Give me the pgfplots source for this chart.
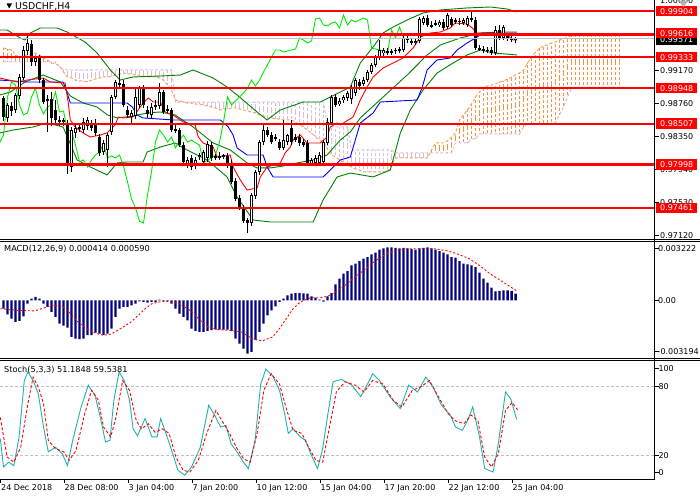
\documentclass[border=0pt]{standalone}
\usepackage{fontspec}
\setmainfont{DejaVu Sans}
\usepackage{pgfplots}
\usepackage{pgfplotstable}
\pgfplotsset{compat=1.18}
\definecolor{bbgreen}{RGB}{0,128,0}
\definecolor{chik}{RGB}{0,235,0}
\definecolor{sandy}{RGB}{244,164,96}
\definecolor{sandyh}{RGB}{242,150,70}
\definecolor{thist}{RGB}{216,191,216}
\definecolor{navyb}{RGB}{0,0,128}
\definecolor{stochc}{RGB}{32,178,170}
\definecolor{lgray}{RGB}{192,192,192}

\pgfplotstableread{
i O H L C
0 0.98826 0.98851 0.98540 0.98590
1 0.98578 0.98764 0.98528 0.98739
2 0.98727 0.98776 0.98602 0.98664
3 0.98677 0.98888 0.98640 0.98863
4 0.98851 0.99124 0.98813 0.99087
5 0.99074 0.99472 0.99049 0.99422
6 0.99410 0.99608 0.99360 0.99509
7 0.99496 0.99546 0.99223 0.99273
8 0.99273 0.99347 0.99223 0.99323
9 0.99323 0.99360 0.99012 0.99049
10 0.99049 0.99074 0.98751 0.98776
11 0.98789 0.98863 0.98404 0.98813
12 0.98813 0.98900 0.98478 0.98578
13 0.98677 0.98801 0.98503 0.98553
14 0.98553 0.98602 0.98478 0.98528
15 0.98528 0.98578 0.98478 0.98553
16 0.98503 0.98553 0.97882 0.97994
17 0.97969 0.98466 0.97907 0.98428
18 0.98391 0.98491 0.98329 0.98453
19 0.98453 0.98503 0.98404 0.98466
20 0.98428 0.98578 0.98391 0.98528
21 0.98478 0.98590 0.98428 0.98553
22 0.98503 0.98553 0.98416 0.98453
23 0.98503 0.98565 0.98354 0.98391
24 0.98341 0.98379 0.98106 0.98143
25 0.98155 0.98304 0.98118 0.98267
26 0.98180 0.98391 0.97969 0.98366
27 0.98404 0.98863 0.98366 0.98838
28 0.98838 0.99049 0.98813 0.99025
29 0.99012 0.99198 0.98950 0.98987
30 0.99000 0.99049 0.98714 0.98739
31 0.98677 0.98727 0.98578 0.98615
32 0.98590 0.98677 0.98515 0.98640
33 0.98602 0.98950 0.98565 0.98838
34 0.98739 0.98975 0.98702 0.98950
35 0.98950 0.98987 0.98702 0.98739
36 0.98677 0.98727 0.98578 0.98627
37 0.98615 0.98764 0.98578 0.98714
38 0.98714 0.98801 0.98677 0.98739
39 0.98727 0.99012 0.98689 0.98900
40 0.98900 0.98925 0.98627 0.98652
41 0.98689 0.98739 0.98640 0.98664
42 0.98677 0.98702 0.98404 0.98428
43 0.98441 0.98491 0.98391 0.98416
44 0.98428 0.98453 0.98217 0.98242
45 0.98242 0.98279 0.97994 0.98031
46 0.97994 0.98093 0.97957 0.98056
47 0.98081 0.98118 0.97932 0.97969
48 0.97981 0.98093 0.97944 0.98056
49 0.98093 0.98143 0.98056 0.98118
50 0.98031 0.98180 0.97994 0.98155
51 0.98081 0.98292 0.98031 0.98255
52 0.98242 0.98279 0.98043 0.98081
53 0.98093 0.98130 0.98056 0.98106
54 0.98106 0.98155 0.98056 0.98081
55 0.98093 0.98130 0.98068 0.98118
56 0.98106 0.98143 0.97957 0.97981
57 0.98019 0.98056 0.97758 0.97783
58 0.97795 0.97832 0.97547 0.97572
59 0.97584 0.97621 0.97435 0.97460
60 0.97460 0.97497 0.97273 0.97298
61 0.97311 0.97335 0.97149 0.97273
62 0.97273 0.97646 0.97236 0.97621
63 0.97609 0.97932 0.97572 0.97907
64 0.97907 0.98304 0.97870 0.98279
65 0.98279 0.98491 0.98242 0.98428
66 0.98428 0.98466 0.98341 0.98366
67 0.98366 0.98404 0.98255 0.98279
68 0.98329 0.98379 0.98292 0.98341
69 0.98279 0.98317 0.98180 0.98205
70 0.98205 0.98553 0.98180 0.98304
71 0.98279 0.98379 0.98242 0.98366
72 0.98453 0.98553 0.98242 0.98279
73 0.98341 0.98379 0.98279 0.98304
74 0.98341 0.98379 0.98230 0.98267
75 0.98279 0.98317 0.98217 0.98242
76 0.98267 0.98304 0.97994 0.98019
77 0.98019 0.98081 0.97994 0.98056
78 0.98019 0.98118 0.97994 0.98081
79 0.98019 0.98155 0.97994 0.98118
80 0.98031 0.98304 0.98006 0.98279
81 0.98267 0.98578 0.98242 0.98528
82 0.98515 0.98863 0.98491 0.98838
83 0.98838 0.98876 0.98714 0.98739
84 0.98751 0.98826 0.98727 0.98789
85 0.98801 0.98863 0.98764 0.98838
86 0.98826 0.98913 0.98789 0.98888
87 0.98813 0.98987 0.98751 0.98950
88 0.98888 0.99074 0.98851 0.99049
89 0.99025 0.99062 0.98925 0.98975
90 0.99000 0.99087 0.98975 0.99049
91 0.99049 0.99174 0.99025 0.99149
92 0.99149 0.99261 0.99124 0.99236
93 0.99236 0.99360 0.99211 0.99335
94 0.99323 0.99546 0.99298 0.99422
95 0.99385 0.99447 0.99347 0.99422
96 0.99410 0.99447 0.99360 0.99397
97 0.99397 0.99434 0.99360 0.99410
98 0.99410 0.99447 0.99372 0.99422
99 0.99410 0.99459 0.99385 0.99434
100 0.99422 0.99596 0.99397 0.99571
101 0.99571 0.99608 0.99509 0.99546
102 0.99534 0.99571 0.99484 0.99509
103 0.99509 0.99559 0.99484 0.99534
104 0.99534 0.99832 0.99509 0.99807
105 0.99757 0.99844 0.99732 0.99819
106 0.99819 0.99857 0.99708 0.99732
107 0.99732 0.99782 0.99695 0.99720
108 0.99745 0.99795 0.99720 0.99757
109 0.99732 0.99795 0.99708 0.99770
110 0.99770 0.99807 0.99670 0.99695
111 0.99708 0.99882 0.99683 0.99857
112 0.99807 0.99832 0.99708 0.99732
113 0.99782 0.99819 0.99745 0.99795
114 0.99782 0.99819 0.99732 0.99770
115 0.99757 0.99819 0.99732 0.99795
116 0.99732 0.99844 0.99708 0.99819
117 0.99819 0.99894 0.99770 0.99795
118 0.99795 0.99832 0.99422 0.99447
119 0.99447 0.99484 0.99410 0.99434
120 0.99434 0.99472 0.99385 0.99422
121 0.99422 0.99459 0.99385 0.99410
122 0.99422 0.99459 0.99360 0.99385
123 0.99385 0.99720 0.99360 0.99670
124 0.99670 0.99732 0.99546 0.99571
125 0.99571 0.99732 0.99546 0.99708
126 0.99596 0.99633 0.99534 0.99571
127 0.99571 0.99608 0.99521 0.99559
128 0.99546 0.99583 0.99509 0.99571
}\candles

\pgfplotstableread{
i A B
0 0.99447 0.99273
1 0.99434 0.99273
2 0.99422 0.99273
3 0.99372 0.99273
4 0.99323 0.99273
5 0.99347 0.99273
6 0.99360 0.99273
7 0.99372 0.99273
8 0.99385 0.99273
9 0.99360 0.99273
10 0.99323 0.99273
11 0.99298 0.99273
12 0.99261 0.99273
13 0.99248 0.99273
14 0.99223 0.99223
15 0.99149 0.99174
16 0.99087 0.99174
17 0.99074 0.99174
18 0.99049 0.99174
19 0.99037 0.99174
20 0.99037 0.99174
21 0.99025 0.99174
22 0.99049 0.99174
23 0.99062 0.99174
24 0.99074 0.99174
25 0.99087 0.99174
26 0.99087 0.99174
27 0.99099 0.99174
28 0.99111 0.99174
29 0.99124 0.99174
30 0.99136 0.99174
31 0.99124 0.99174
32 0.99124 0.99174
33 0.99111 0.99174
34 0.99099 0.99174
35 0.99099 0.99174
36 0.99087 0.99174
37 0.99087 0.99174
38 0.99087 0.99174
39 0.99074 0.99174
40 0.99049 0.99174
41 0.98987 0.99174
42 0.98925 0.99174
43 0.98801 0.98776
44 0.98789 0.98776
45 0.98776 0.98776
46 0.98764 0.98776
47 0.98764 0.98776
48 0.98751 0.98776
49 0.98751 0.98776
50 0.98739 0.98776
51 0.98727 0.98776
52 0.98714 0.98776
53 0.98702 0.98776
54 0.98677 0.98776
55 0.98689 0.98776
56 0.98689 0.98776
57 0.98702 0.98776
58 0.98702 0.98776
59 0.98689 0.98776
60 0.98677 0.98776
61 0.98664 0.98776
62 0.98652 0.98776
63 0.98640 0.98776
64 0.98615 0.98776
65 0.98602 0.98776
66 0.98578 0.98776
67 0.98578 0.98776
68 0.98565 0.98776
69 0.98565 0.98776
70 0.98553 0.98776
71 0.98553 0.98776
72 0.98553 0.98776
73 0.98528 0.98776
74 0.98491 0.98776
75 0.98466 0.98776
76 0.98428 0.98776
77 0.98391 0.98776
78 0.98341 0.98776
79 0.98304 0.98776
80 0.98267 0.98776
81 0.98192 0.98466
82 0.98118 0.98466
83 0.98093 0.98466
84 0.98056 0.98466
85 0.98031 0.98466
86 0.97994 0.98466
87 0.97969 0.98180
88 0.97944 0.98180
89 0.97932 0.98180
90 0.97907 0.98180
91 0.97907 0.98180
92 0.97907 0.98180
93 0.97907 0.98180
94 0.97907 0.98180
95 0.97907 0.98180
96 0.97907 0.98180
97 0.97994 0.98180
98 0.98081 0.98143
99 0.98081 0.98143
100 0.98081 0.98143
101 0.98081 0.98143
102 0.98081 0.98143
103 0.98081 0.98143
104 0.98081 0.98143
105 0.98081 0.98143
106 0.98081 0.98143
107 0.98180 0.98143
108 0.98267 0.98143
109 0.98267 0.98143
110 0.98267 0.98143
111 0.98292 0.98143
112 0.98341 0.98143
113 0.98391 0.98267
114 0.98553 0.98267
115 0.98615 0.98267
116 0.98677 0.98267
117 0.98751 0.98317
118 0.98838 0.98317
119 0.98900 0.98379
120 0.98962 0.98379
121 0.98975 0.98379
122 0.98987 0.98379
123 0.99000 0.98379
124 0.99025 0.98379
125 0.99037 0.98379
126 0.99062 0.98379
127 0.99087 0.98379
128 0.99111 0.98379
129 0.99136 0.98379
130 0.99174 0.98466
131 0.99261 0.98503
132 0.99335 0.98503
133 0.99397 0.98503
134 0.99447 0.98503
135 0.99472 0.98503
136 0.99484 0.98503
137 0.99509 0.98503
138 0.99521 0.98528
139 0.99546 0.98615
140 0.99559 0.98714
141 0.99583 0.98838
142 0.99596 0.98950
143 0.99596 0.98962
144 0.99596 0.98962
145 0.99596 0.98962
146 0.99596 0.98962
147 0.99596 0.98962
148 0.99596 0.98962
149 0.99596 0.98962
150 0.99596 0.98962
151 0.99596 0.98962
152 0.99596 0.98962
153 0.99596 0.98962
154 0.99596 0.98962
}\cloud

\pgfplotstableread{
i h
0 -0.00052
1 -0.00087
2 -0.00113
3 -0.00134
4 -0.00128
5 -0.00099
6 -0.00021
7 0.00010
8 0.00021
9 0.00010
10 -0.00021
11 -0.00041
12 -0.00072
13 -0.00103
14 -0.00144
15 -0.00156
16 -0.00169
17 -0.00227
18 -0.00237
19 -0.00241
20 -0.00237
21 -0.00216
22 -0.00216
23 -0.00200
24 -0.00206
25 -0.00216
26 -0.00206
27 -0.00175
28 -0.00103
29 -0.00052
30 -0.00041
31 -0.00041
32 -0.00031
33 -0.00021
34 -0.00006
35 -0.00010
36 -0.00014
37 -0.00010
38 -0.00010
39 0.00004
40 -0.00004
41 -0.00004
42 -0.00021
43 -0.00052
44 -0.00082
45 -0.00103
46 -0.00124
47 -0.00175
48 -0.00190
49 -0.00196
50 -0.00196
51 -0.00190
52 -0.00185
53 -0.00181
54 -0.00181
55 -0.00181
56 -0.00181
57 -0.00190
58 -0.00237
59 -0.00268
60 -0.00299
61 -0.00330
62 -0.00319
63 -0.00247
64 -0.00196
65 -0.00144
66 -0.00093
67 -0.00062
68 -0.00037
69 -0.00010
70 0.00010
71 0.00031
72 0.00041
73 0.00045
74 0.00045
75 0.00043
76 0.00041
77 0.00025
78 0.00016
79 0.00004
80 -0.00008
81 0.00025
82 0.00045
83 0.00099
84 0.00134
85 0.00165
86 0.00181
87 0.00216
88 0.00227
89 0.00243
90 0.00258
91 0.00268
92 0.00284
93 0.00295
94 0.00313
95 0.00321
96 0.00328
97 0.00328
98 0.00325
99 0.00321
100 0.00325
101 0.00321
102 0.00317
103 0.00313
104 0.00321
105 0.00325
106 0.00328
107 0.00321
108 0.00313
109 0.00305
110 0.00295
111 0.00284
112 0.00268
113 0.00264
114 0.00243
115 0.00227
116 0.00222
117 0.00216
118 0.00206
119 0.00171
120 0.00134
121 0.00109
122 0.00078
123 0.00056
124 0.00058
125 0.00062
126 0.00062
127 0.00058
128 0.00041
}\macd

\pgfplotsset{
  common/.style={scale only axis, width=655pt, xmin=-0.875, xmax=162.875,
    axis line style={draw=none}, clip mode=individual, scaled ticks=false,
    tick align=outside, major tick length=3.5pt, tick style={black, line width=0.8pt},
    ytick pos=right, yticklabels={}, xtick=\empty},
  hatch/.style={draw=none, no marks, error bars/.cd, y dir=both, y explicit, error mark=none},
}
\tikzset{
  f8/.style={font=\fontsize{8}{9.6}\selectfont},
  plab/.style={f8, anchor=west, inner sep=0pt},
  pbox/.style={f8, fill=red, text=white, anchor=west, inner xsep=4pt, inner ysep=0pt, minimum height=10.5pt},
  kbox/.style={f8, fill=black, text=white, anchor=west, inner xsep=4pt, inner ysep=0pt, minimum height=10.5pt},
}

\begin{document}
\begin{tikzpicture}[x=1pt,y=1pt]

% ---------------- main price panel ----------------
\begin{axis}[common, at={(0pt,260.5pt)}, anchor=south west, height=239.5pt,
  ymin=0.970684, ymax=1.00043,
  ytick={0.97120,0.97530,0.97940,0.98350,0.98760,0.99170}]
% cloud hatch (orange where span A is above span B, thistle elsewhere)
\addplot[restrict x to domain=0:11, hatch, error bar style={draw=sandyh, line width=1.2pt, dash pattern=on 3pt off 2pt}]
  table[x=i, y expr={(\thisrow{A}+\thisrow{B})/2}, y error expr={abs(\thisrow{A}-\thisrow{B})/2}] {\cloud};
\addplot[restrict x to domain=43:44, hatch, error bar style={draw=sandyh, line width=1.2pt, dash pattern=on 3pt off 2pt}]
  table[x=i, y expr={(\thisrow{A}+\thisrow{B})/2}, y error expr={abs(\thisrow{A}-\thisrow{B})/2}] {\cloud};
\addplot[restrict x to domain=107:154, hatch, error bar style={draw=sandyh, line width=1.2pt, dash pattern=on 3pt off 2pt}]
  table[x=i, y expr={(\thisrow{A}+\thisrow{B})/2}, y error expr={abs(\thisrow{A}-\thisrow{B})/2}] {\cloud};
\addplot[restrict x to domain=12:42, hatch, error bar style={draw=thist, line width=1.2pt, dash pattern=on 3pt off 2pt}]
  table[x=i, y expr={(\thisrow{A}+\thisrow{B})/2}, y error expr={abs(\thisrow{A}-\thisrow{B})/2}] {\cloud};
\addplot[restrict x to domain=46:106, hatch, error bar style={draw=thist, line width=1.2pt, dash pattern=on 3pt off 2pt}]
  table[x=i, y expr={(\thisrow{A}+\thisrow{B})/2}, y error expr={abs(\thisrow{A}-\thisrow{B})/2}] {\cloud};
\addplot[sandy, line width=1pt, dash pattern=on 3pt off 2pt] table[x=i, y=A] {\cloud};
\addplot[thist, line width=1pt, dash pattern=on 3pt off 2pt] table[x=i, y=B] {\cloud};
% Bollinger bands
\addplot[bbgreen, line width=0.9pt] coordinates {(-0.9,0.99670) (0.9,0.99670) (4.2,0.99571) (5.4,0.99546) (6.7,0.99633) (9.2,0.99695) (13.4,0.99695) (15.9,0.99645) (20.4,0.99521) (23.4,0.99385) (26.7,0.99174) (29.2,0.99049) (32.4,0.99087) (39.2,0.99099) (44.2,0.99111) (47.4,0.99174) (52.4,0.99074) (55.9,0.98962) (58.4,0.98863) (63.4,0.98652) (65.9,0.98553) (69.2,0.98677) (74.9,0.98776) (79.2,0.98776) (81.7,0.98838) (86.7,0.98962) (89.2,0.99261) (92.4,0.99459) (94.9,0.99633) (97.4,0.99708) (100.9,0.99795) (104.9,0.99882) (109.2,0.99919) (115.9,0.99944) (121.7,0.99956) (125.9,0.99931) (128.4,0.99894)};
\addplot[bbgreen, line width=0.9pt] coordinates {(-0.9,0.98863) (1.7,0.98900) (5.4,0.99025) (9.9,0.99111) (14.2,0.99025) (16.7,0.98851) (19.9,0.98764) (23.4,0.98714) (26.0,0.98615) (28.4,0.98578) (32.4,0.98602) (35.9,0.98640) (39.2,0.98652) (42.9,0.98615) (47.4,0.98466) (52.4,0.98267) (56.7,0.98180) (60.9,0.98019) (63.4,0.97957) (66.7,0.97957) (69.9,0.97981) (73.4,0.98019) (77.4,0.98056) (80.9,0.98118) (84.2,0.98304) (86.7,0.98404) (89.2,0.98578) (94.9,0.98838) (100.9,0.99111) (105.9,0.99360) (109.2,0.99484) (114.2,0.99571) (119.2,0.99633) (124.2,0.99645) (128.4,0.99645)};
\addplot[bbgreen, line width=0.9pt] coordinates {(-0.9,0.98391) (2.4,0.98428) (7.4,0.98466) (10.9,0.98515) (14.9,0.98466) (18.4,0.98056) (21.7,0.97969) (25.9,0.97870) (28.4,0.98019) (30.9,0.98031) (34.9,0.98031) (35.9,0.98155) (39.2,0.98217) (42.9,0.98267) (45.9,0.98180) (50.9,0.98056) (55.9,0.97845) (58.4,0.97596) (62.4,0.97311) (66.7,0.97286) (77.4,0.97286) (79.9,0.97559) (83.4,0.97845) (86.7,0.97894) (92.4,0.97845) (96.7,0.97932) (99.2,0.98391) (101.7,0.98677) (104.9,0.98925) (108.4,0.99136) (112.4,0.99261) (115.9,0.99360) (119.2,0.99422) (122.4,0.99385) (128.4,0.99360)};
% Kijun (blue) and Tenkan (red)
\addplot[blue, line width=0.9pt] coordinates {(-0.9,0.99049) (5.9,0.99025) (14.9,0.99025) (15.9,0.98888) (16.7,0.98764) (30.9,0.98764) (32.2,0.98714) (33.4,0.98615) (34.9,0.98578) (42.4,0.98553) (54.2,0.98553) (56.2,0.98466) (57.4,0.98366) (58.4,0.98205) (60.9,0.98118) (64.9,0.98118) (65.9,0.97969) (67.4,0.97845) (79.9,0.97845) (81.7,0.97932) (84.2,0.98056) (86.7,0.98093) (89.2,0.98515) (92.4,0.98640) (94.2,0.98776) (103.4,0.98801) (104.7,0.98962) (105.9,0.99174) (108.4,0.99298) (111.7,0.99323) (113.4,0.99422) (115.9,0.99509) (118.4,0.99583) (119.9,0.99633) (128.4,0.99633)};
\addplot[red, line width=0.9pt] coordinates {(-0.9,0.99074) (3.4,0.99025) (5.9,0.99049) (9.9,0.99074) (11.7,0.99025) (15.4,0.99012) (16.2,0.98764) (16.7,0.98553) (17.9,0.98466) (19.9,0.98391) (21.7,0.98341) (24.2,0.98366) (25.9,0.98391) (27.9,0.98491) (28.7,0.98590) (29.9,0.98578) (32.4,0.98590) (34.9,0.98764) (36.2,0.98826) (37.4,0.98776) (39.2,0.98776) (40.4,0.98652) (42.4,0.98615) (44.9,0.98528) (47.9,0.98491) (48.7,0.98341) (49.9,0.98267) (52.4,0.98217) (53.4,0.98093) (56.7,0.98118) (57.4,0.97969) (59.2,0.97807) (60.9,0.97683) (63.4,0.97708) (64.2,0.97845) (65.9,0.97969) (69.2,0.98019) (70.4,0.98143) (71.7,0.98217) (72.4,0.98304) (74.2,0.98366) (75.9,0.98267) (79.2,0.98267) (80.9,0.98341) (81.7,0.98466) (83.4,0.98515) (84.2,0.98491) (87.4,0.98590) (89.2,0.98801) (90.9,0.98962) (92.4,0.99087) (94.9,0.99198) (97.4,0.99261) (99.9,0.99323) (102.4,0.99447) (104.2,0.99583) (106.7,0.99633) (109.2,0.99645) (111.7,0.99695) (112.9,0.99757) (115.9,0.99745) (117.2,0.99695) (118.4,0.99633) (122.4,0.99633) (125.9,0.99608) (127.4,0.99546) (128.4,0.99546)};
% Chikou span: closes shifted 26 bars back
\addplot[chik, line width=0.9pt] table[x expr={\thisrow{i}-26}, y=C] {\candles};
% candles
\addplot[hatch, error bar style={draw=black, line width=1pt}]
  table[x=i, y=C, y error plus expr={\thisrow{H}-\thisrow{C}}, y error minus expr={\thisrow{C}-\thisrow{L}}] {\candles};
\addplot[hatch, error bar style={draw=black, line width=3pt}]
  table[x=i, y expr={(\thisrow{O}+\thisrow{C})/2}, y error expr={abs(\thisrow{O}-\thisrow{C})/2}] {\candles};
\addplot[hatch, error bar style={draw=white, line width=1pt}]
  table[x=i, y expr={(\thisrow{O}+\thisrow{C})/2}, y error expr={max(\thisrow{C}-\thisrow{O}-0.000248,0)/2}] {\candles};
% bid line
\addplot[lgray, line width=0.8pt] coordinates {(-2,0.99571) (170,0.99571)};
% horizontal levels
\addplot[red, line width=2.3pt] coordinates {(-2,0.99904) (170,0.99904)};
\addplot[red, line width=2.3pt] coordinates {(-2,0.99616) (170,0.99616)};
\addplot[red, line width=2.3pt] coordinates {(-2,0.99333) (170,0.99333)};
\addplot[red, line width=2.3pt] coordinates {(-2,0.98948) (170,0.98948)};
\addplot[red, line width=2.3pt] coordinates {(-2,0.98507) (170,0.98507)};
\addplot[red, line width=2.3pt] coordinates {(-2,0.97998) (170,0.97998)};
\addplot[red, line width=2.3pt] coordinates {(-2,0.97461) (170,0.97461)};
% price scale labels
\node[plab] at (axis cs:164.125,1.00033) {1.00000};
\node[plab] at (axis cs:164.125,0.99170) {0.99170};
\node[plab] at (axis cs:164.125,0.98760) {0.98760};
\node[plab] at (axis cs:164.125,0.98350) {0.98350};
\node[plab] at (axis cs:164.125,0.97940) {0.97940};
\node[plab] at (axis cs:164.125,0.97530) {0.97530};
\node[plab] at (axis cs:164.125,0.97120) {0.97120};
\node[kbox] at (axis cs:163.125,0.99548) {0.99571};
\node[pbox] at (axis cs:163.125,0.99630) {0.99616};
\node[pbox] at (axis cs:163.125,0.99904) {0.99904};
\node[pbox] at (axis cs:163.125,0.99333) {0.99333};
\node[pbox] at (axis cs:163.125,0.98948) {0.98948};
\node[pbox] at (axis cs:163.125,0.98507) {0.98507};
\node[pbox] at (axis cs:163.125,0.97998) {0.97998};
\node[pbox] at (axis cs:163.125,0.97461) {0.97461};
\end{axis}

% ---------------- MACD panel ----------------
\begin{axis}[common, at={(0pt,141.5pt)}, anchor=south west, height=117pt,
  ymin=-0.0036026, ymax=0.0036397, ytick={-0.003194,0,0.003222}]
\addplot[ybar, bar width=0.62, fill=navyb, draw=none] table[x=i, y=h] {\macd};
\addplot[red, line width=0.9pt, dash pattern=on 2pt off 2pt] coordinates {(-0.8,-0.00052) (3.5,-0.00062) (7.8,-0.00066) (9.5,-0.00052) (12.1,-0.00031) (14.7,-0.00037) (16.4,-0.00072) (18.1,-0.00124) (20.7,-0.00175) (23.3,-0.00206) (25.0,-0.00216) (26.8,-0.00210) (29.3,-0.00175) (31.9,-0.00134) (33.7,-0.00093) (35.4,-0.00052) (37.1,-0.00021) (39.7,-0.00006) (42.3,-0.00010) (44.0,-0.00021) (46.6,-0.00062) (49.2,-0.00124) (50.9,-0.00161) (53.5,-0.00181) (56.1,-0.00185) (59.5,-0.00196) (62.1,-0.00237) (64.7,-0.00251) (67.3,-0.00227) (69.0,-0.00175) (70.7,-0.00113) (72.4,-0.00052) (74.2,-0.00010) (76.8,0.00016) (79.3,0.00016) (81.1,0.00025) (83.6,0.00062) (85.4,0.00093) (87.9,0.00144) (90.6,0.00196) (93.1,0.00247) (95.7,0.00288) (98.3,0.00309) (100.9,0.00319) (104.4,0.00319) (107.8,0.00319) (111.2,0.00305) (113.8,0.00284) (116.4,0.00258) (119.0,0.00216) (121.6,0.00165) (124.2,0.00124) (126.8,0.00082) (128.3,0.00059)};
\node[plab] at (axis cs:163.6,0.003222) {0.003222};
\node[plab] at (axis cs:163.6,0) {0.00};
\node[plab] at (axis cs:163.5,-0.003194) {-0.003194};
\end{axis}

% ---------------- Stochastic panel ----------------
\begin{axis}[common, at={(0pt,21pt)}, anchor=south west, height=118.5pt,
  ymin=-0.61, ymax=102.43, ytick={5,20,80,95.65},
  xtick={-0.875,15.125,31.125,47.125,63.125,79.125,95.125,111.125,127.125},
  xticklabels={}, xtick pos=left]
\addplot[lgray, line width=0.8pt, dash pattern=on 3pt off 2pt] coordinates {(-2,80) (170,80)};
\addplot[lgray, line width=0.8pt, dash pattern=on 3pt off 2pt] coordinates {(-2,20) (170,20)};
\addplot[stochc, line width=0.9pt] coordinates {(-0.8,34.5) (0.0,9.8) (1.3,14) (2.6,11) (3.9,36) (5.2,85) (6.1,92.5) (7.4,85) (8.7,73.6) (10.0,44.6) (11.2,23) (13.0,27) (14.7,21.4) (16.0,11) (17.3,33) (19.4,62) (21.2,81) (22.9,72) (24.2,53) (25.5,31.6) (26.6,33) (27.6,68) (28.9,92.5) (30.2,85) (31.5,68) (32.4,43) (33.5,37) (35.4,52) (37.1,36) (38.4,36) (39.3,52) (40.6,39) (41.8,27) (43.6,7) (45.3,2.6) (47.0,9.8) (49.2,27) (51.3,63.5) (52.6,56) (54.3,44.6) (55.6,46) (56.9,30) (58.7,21.4) (60.0,14) (61.2,8.4) (62.9,33) (64.3,82) (65.6,95) (67.3,89) (69.0,76.5) (70.3,56) (71.2,39) (72.4,43) (74.2,36) (75.5,33) (76.8,21.4) (78.5,8.4) (79.8,26) (81.1,56) (82.4,84) (84.5,86) (87.1,81) (89.3,71) (91.0,82) (92.3,91) (94.0,85) (96.6,71) (99.2,60.6) (101.3,81) (103.5,75) (105.6,88) (107.4,79.4) (109.5,63.5) (111.7,55) (113.0,44.6) (114.7,41.7) (116.0,50) (117.3,62) (119.0,36) (120.3,8.4) (122.4,5.5) (123.7,30) (125.5,75) (126.8,69) (128.3,51.2)};
\addplot[red, line width=0.9pt, dash pattern=on 3pt off 2pt] coordinates {(-0.8,53) (0.9,18.5) (2.6,14) (4.3,27) (6.1,65) (7.4,88) (8.7,79.4) (10.0,65) (11.2,33) (13.0,25.8) (15.1,22.9) (16.4,15.6) (18.1,24) (20.3,56) (22.0,76.5) (23.7,68) (25.0,44.6) (26.8,36) (28.1,53) (29.8,85) (31.5,76.5) (33.2,50) (34.5,43) (36.2,47.5) (37.9,40) (39.7,43) (41.4,39) (43.1,18.5) (44.9,7) (46.6,5.5) (48.7,15.6) (50.9,40) (53.1,59) (54.8,49) (56.5,39) (58.2,27) (60.0,17) (61.7,14) (63.4,39) (65.1,76.5) (66.9,91) (69.0,82) (70.7,60.6) (72.4,41.7) (74.6,39) (76.3,27) (78.1,15.6) (79.8,14) (81.5,44.6) (83.2,75) (85.4,84) (87.9,81) (90.1,75) (92.3,85) (94.9,82) (97.4,68) (99.6,62) (102.2,76.5) (104.3,79.4) (106.5,85) (108.7,71) (111.2,56) (113.0,50) (115.1,47.5) (116.9,55) (118.6,50) (120.3,18.5) (122.0,9.8) (123.7,21.4) (125.5,59) (127.2,66) (128.5,59.5)};
\node[plab] at (axis cs:163.7,95.65) {100};
\node[plab] at (axis cs:163.7,80) {80};
\node[plab] at (axis cs:163.7,20) {20};
\node[plab] at (axis cs:163.7,5) {0};
\end{axis}

% ---------------- frames ----------------
\draw[black, line width=1pt] (654.5,500) -- (654.5,21);
\draw[black, line width=1pt] (0,260.5) -- (700,260.5);
\draw[black, line width=1pt] (0,258.5) -- (700,258.5);
\draw[black, line width=1pt] (0,141.5) -- (700,141.5);
\draw[black, line width=1pt] (0,139.5) -- (700,139.5);
\draw[black, line width=1pt] (0,21) -- (655,21);

% ---------------- texts ----------------
\fill[black] (6.5,496.5) -- (12,496.5) -- (9.25,491.5) -- cycle;
\node[anchor=west, inner sep=0pt, font=\fontsize{9.4}{11}\selectfont] at (15,493.3) {USDCHF,H4};
\fill[gray!60] (679,499) -- (688,499) -- (683.5,493) -- cycle;
\node[anchor=west, inner sep=0pt, font=\fontsize{8.2}{9.8}\selectfont] at (4,251) {MACD(12,26,9) 0.000414 0.000590};
\node[anchor=west, inner sep=0pt, font=\fontsize{8.2}{9.8}\selectfont] at (4,129.7) {Stoch(5,3,3) 51.1848 59.5381};
\foreach \x/\t in {1/24 Dec 2018, 64.5/28 Dec 08:00, 128.5/3 Jan 04:00, 192.5/7 Jan 20:00, 256.5/10 Jan 12:00, 320.5/15 Jan 04:00, 384.5/17 Jan 20:00, 448.5/22 Jan 12:00, 512.5/25 Jan 04:00}
  \node[plab] at (\x,12) {\t};
\pgfresetboundingbox
\path[use as bounding box] (0,0) rectangle (700,500);
\end{tikzpicture}
\end{document}
